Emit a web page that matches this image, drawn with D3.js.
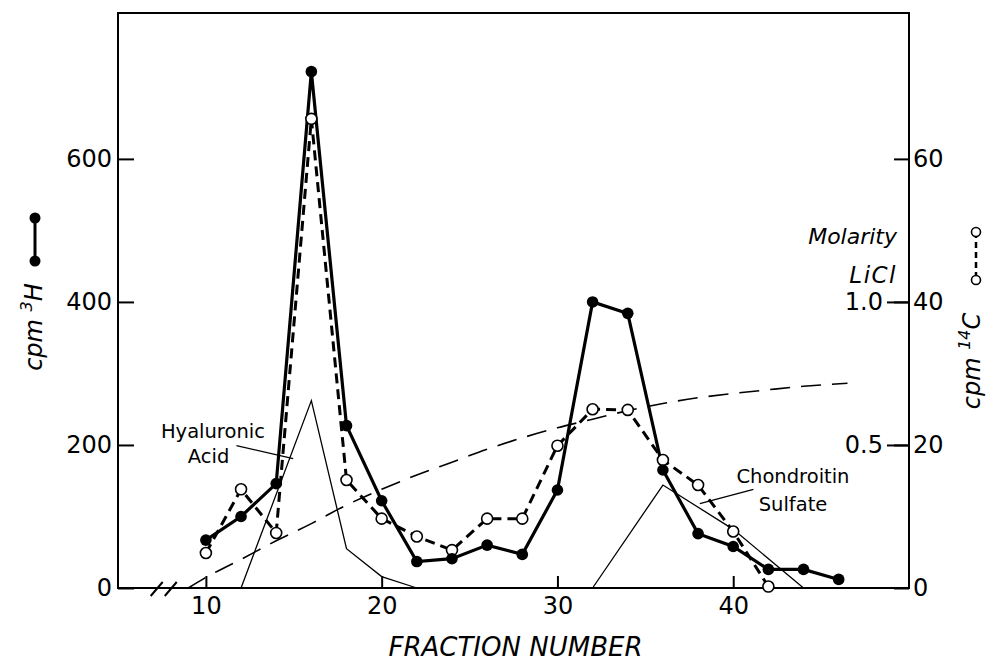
<!DOCTYPE html>
<html>
<head>
<meta charset="utf-8">
<script src="https://cdn.jsdelivr.net/npm/d3@7"></script>
<style>
  html, body { margin: 0; padding: 0; background: #fff; }
  svg { display: block; }
  text { font-family: 'DejaVu Sans', sans-serif; fill: #000; }
</style>
</head>
<body>
<div id="chart"></div>
<script>
// Data: 3H counts (filled circles, left axis)
const fractions3H = [10, 12, 14, 16, 18, 20, 22, 24, 26, 28, 30, 32, 34, 36, 38, 40, 42, 44, 46]
const cpm3H = [67, 100, 146, 722, 227, 122, 37, 41, 60, 47, 137, 400, 384, 165, 76, 58, 26, 26, 12]

// Data: 14C counts (open circles, right axis)
const fractions14C = [10, 12, 14, 16, 18, 20, 22, 24, 26, 28, 30, 32, 34, 36, 38, 40, 42]
const cpm14C = [4.9, 13.8, 7.7, 65.6, 15.1, 9.7, 7.2, 5.3, 9.7, 9.7, 19.9, 25.0, 24.9, 17.9, 14.4, 7.9, 0.2]

// Reference peaks (thin lines, left axis units)
const hyaluronicFractions = [12, 16, 18, 20, 22]
const hyaluronicValues = [0, 262, 55, 16, 0]
const chondroitinFractions = [32, 36, 40, 44]
const chondroitinValues = [0, 144, 82, 0]

// LiCl gradient (long dashes, molarity)
const molarityFractions = [9, 10, 12, 14, 16, 18, 20, 22, 24, 26, 28, 30, 32, 34, 36, 38, 40, 42, 44, 46.5]
const molarityValues = [0, 0.037, 0.10, 0.165, 0.225, 0.29, 0.345, 0.395, 0.44, 0.485, 0.525, 0.56, 0.59, 0.62, 0.645, 0.665, 0.68, 0.693, 0.705, 0.716]

// Ticks
const xTicks = [10, 20, 30, 40]
const leftTicks = [0, 200, 400, 600]
const rightTicks = [0, 20, 40, 60]
const molarityTicks = [0.5, 1.0]

// Dimensions
const width = 986
const height = 663
const plotLeft = 118
const plotRight = 909
const plotTop = 13
const plotBottom = 588
const fontNum = 24

const svg = d3.select('#chart')
    .append('svg')
    .attr('width', width)
    .attr('height', height)

// Scales
const x = d3.scaleLinear().domain([5, 50]).range([plotLeft, plotRight])
const yLeft = d3.scaleLinear().domain([0, 804]).range([plotBottom, plotTop])
const yRight = d3.scaleLinear().domain([0, 80.4]).range([plotBottom, plotTop])
const yMol = d3.scaleLinear().domain([0, 2.01]).range([plotBottom, plotTop])

// Frame
svg.append('rect')
    .attr('x', plotLeft)
    .attr('y', plotTop)
    .attr('width', plotRight - plotLeft)
    .attr('height', plotBottom - plotTop)
    .attr('fill', 'none')
    .attr('stroke', '#000')
    .attr('stroke-width', 2)

function styleAxis(g) {
    g.select('.domain').remove()
    g.selectAll('line').attr('stroke', '#000').attr('stroke-width', 2)
    g.selectAll('text')
        .attr('font-family', "'DejaVu Sans', sans-serif")
        .attr('font-size', fontNum)
        .attr('fill', '#000')
    g.attr('font-family', null).attr('font-size', null)
}

// Left axis
svg.append('g')
    .attr('transform', `translate(${plotLeft},0)`)
    .call(d3.axisLeft(yLeft).tickValues(leftTicks).tickSize(-16).tickPadding(6))
    .call(styleAxis)

// Right axis (cpm 14C)
svg.append('g')
    .attr('transform', `translate(${plotRight},0)`)
    .call(d3.axisRight(yRight).tickValues(rightTicks).tickSize(-15).tickPadding(4))
    .call(styleAxis)

// Molarity axis (inside, on the right)
svg.append('g')
    .attr('transform', `translate(${plotRight},0)`)
    .call(d3.axisLeft(yMol).tickValues(molarityTicks).tickSize(22).tickPadding(4).tickFormat(d3.format('.1f')))
    .call(styleAxis)

// Bottom axis
svg.append('g')
    .attr('transform', `translate(0,${plotBottom})`)
    .call(d3.axisBottom(x).tickValues(xTicks).tickSize(-12).tickPadding(9))
    .call(styleAxis)

// Axis break marks
const breakFractions = [7.2, 8.0]
svg.append('g').selectAll('line')
    .data(breakFractions)
    .join('line')
    .attr('x1', d => x(d) - 6)
    .attr('y1', plotBottom + 8)
    .attr('x2', d => x(d) + 6)
    .attr('y2', plotBottom - 6)
    .attr('stroke', '#000')
    .attr('stroke-width', 2)

// Molarity gradient
const molLine = d3.line()
    .x((d, i) => x(molarityFractions[i]))
    .y(d => yMol(d))
    .curve(d3.curveMonotoneX)
svg.append('path')
    .attr('d', molLine(molarityValues))
    .attr('fill', 'none')
    .attr('stroke', '#000')
    .attr('stroke-width', 1.6)
    .attr('stroke-dasharray', '20,11')

// Reference peaks
const peakLine = fr => d3.line()
    .x((d, i) => x(fr[i]))
    .y(d => yLeft(d))
svg.append('path')
    .attr('d', peakLine(hyaluronicFractions)(hyaluronicValues))
    .attr('fill', 'none')
    .attr('stroke', '#000')
    .attr('stroke-width', 1.3)
svg.append('path')
    .attr('d', peakLine(chondroitinFractions)(chondroitinValues))
    .attr('fill', 'none')
    .attr('stroke', '#000')
    .attr('stroke-width', 1.3)

// 14C series (dashed, open circles)
const line14C = d3.line()
    .x((d, i) => x(fractions14C[i]))
    .y(d => yRight(d))
svg.append('path')
    .attr('d', line14C(cpm14C))
    .attr('fill', 'none')
    .attr('stroke', '#000')
    .attr('stroke-width', 3)
    .attr('stroke-dasharray', '10,6')

// 3H series (solid, filled circles)
const line3H = d3.line()
    .x((d, i) => x(fractions3H[i]))
    .y(d => yLeft(d))
svg.append('path')
    .attr('d', line3H(cpm3H))
    .attr('fill', 'none')
    .attr('stroke', '#000')
    .attr('stroke-width', 3.2)

svg.append('g').selectAll('circle')
    .data(cpm14C)
    .join('circle')
    .attr('cx', (d, i) => x(fractions14C[i]))
    .attr('cy', d => yRight(d))
    .attr('r', 5.5)
    .attr('fill', '#fff')
    .attr('stroke', '#000')
    .attr('stroke-width', 1.6)

svg.append('g').selectAll('circle')
    .data(cpm3H)
    .join('circle')
    .attr('cx', (d, i) => x(fractions3H[i]))
    .attr('cy', d => yLeft(d))
    .attr('r', 5.8)
    .attr('fill', '#000')

// Annotations
const labelSize = 19.5
function addLabel(txt, f, v) {
    svg.append('text')
        .attr('x', x(f))
        .attr('y', yLeft(v))
        .attr('text-anchor', 'middle')
        .attr('font-size', labelSize)
        .text(txt)
}
addLabel('Hyaluronic', 10.4, 210)
addLabel('Acid', 10.15, 175)
addLabel('Chondroitin', 43.4, 147)
addLabel('Sulfate', 43.4, 108)

const pointers = [
    [[11.74, 199], [14.97, 181]],
    [[38.1, 118], [41.15, 138]]
]
svg.append('g').selectAll('line')
    .data(pointers)
    .join('line')
    .attr('x1', d => x(d[0][0]))
    .attr('y1', d => yLeft(d[0][1]))
    .attr('x2', d => x(d[1][0]))
    .attr('y2', d => yLeft(d[1][1]))
    .attr('stroke', '#000')
    .attr('stroke-width', 1.3)

// Molarity LiCl label
svg.append('text')
    .attr('x', 897)
    .attr('y', 244)
    .attr('text-anchor', 'end')
    .attr('font-size', 22)
    .attr('font-style', 'italic')
    .text('Molarity')
svg.append('text')
    .attr('x', 897)
    .attr('y', 283)
    .attr('text-anchor', 'end')
    .attr('font-size', 23)
    .attr('font-style', 'italic')
    .attr('letter-spacing', 1.5)
    .text('LiCl')

// X axis title
svg.append('text')
    .attr('x', (plotLeft + plotRight) / 2 + 2)
    .attr('y', 656)
    .attr('text-anchor', 'middle')
    .attr('font-size', 26)
    .attr('font-style', 'italic')
    .text('FRACTION NUMBER')

// Left title: cpm 3H
const leftTitle = svg.append('text')
    .attr('transform', 'translate(42,327) rotate(-90)')
    .attr('text-anchor', 'middle')
    .attr('font-size', 24)
    .attr('font-style', 'italic')
leftTitle.append('tspan').text('cpm ')
leftTitle.append('tspan').attr('font-size', 16).attr('dy', -10).text('3')
leftTitle.append('tspan').attr('dy', 10).text('H')

// Right title: cpm 14C
const rightTitle = svg.append('text')
    .attr('transform', 'translate(980,361) rotate(-90)')
    .attr('text-anchor', 'middle')
    .attr('font-size', 24)
    .attr('font-style', 'italic')
rightTitle.append('tspan').text('cpm ')
rightTitle.append('tspan').attr('font-size', 16).attr('dy', -10).text('14')
rightTitle.append('tspan').attr('dy', 10).text('C')

// Legend keys
svg.append('line')
    .attr('x1', 35).attr('y1', 218).attr('x2', 35).attr('y2', 261)
    .attr('stroke', '#000').attr('stroke-width', 3)
svg.append('g').selectAll('circle')
    .data([218, 261])
    .join('circle')
    .attr('cx', 35).attr('cy', d => d).attr('r', 5.5).attr('fill', '#000')

svg.append('line')
    .attr('x1', 976).attr('y1', 232).attr('x2', 976).attr('y2', 280)
    .attr('stroke', '#000').attr('stroke-width', 2.5)
    .attr('stroke-dasharray', '6,4')
svg.append('g').selectAll('circle')
    .data([232, 280])
    .join('circle')
    .attr('cx', 976).attr('cy', d => d).attr('r', 4.5)
    .attr('fill', '#fff').attr('stroke', '#000').attr('stroke-width', 1.6)
</script>
</body>
</html>
